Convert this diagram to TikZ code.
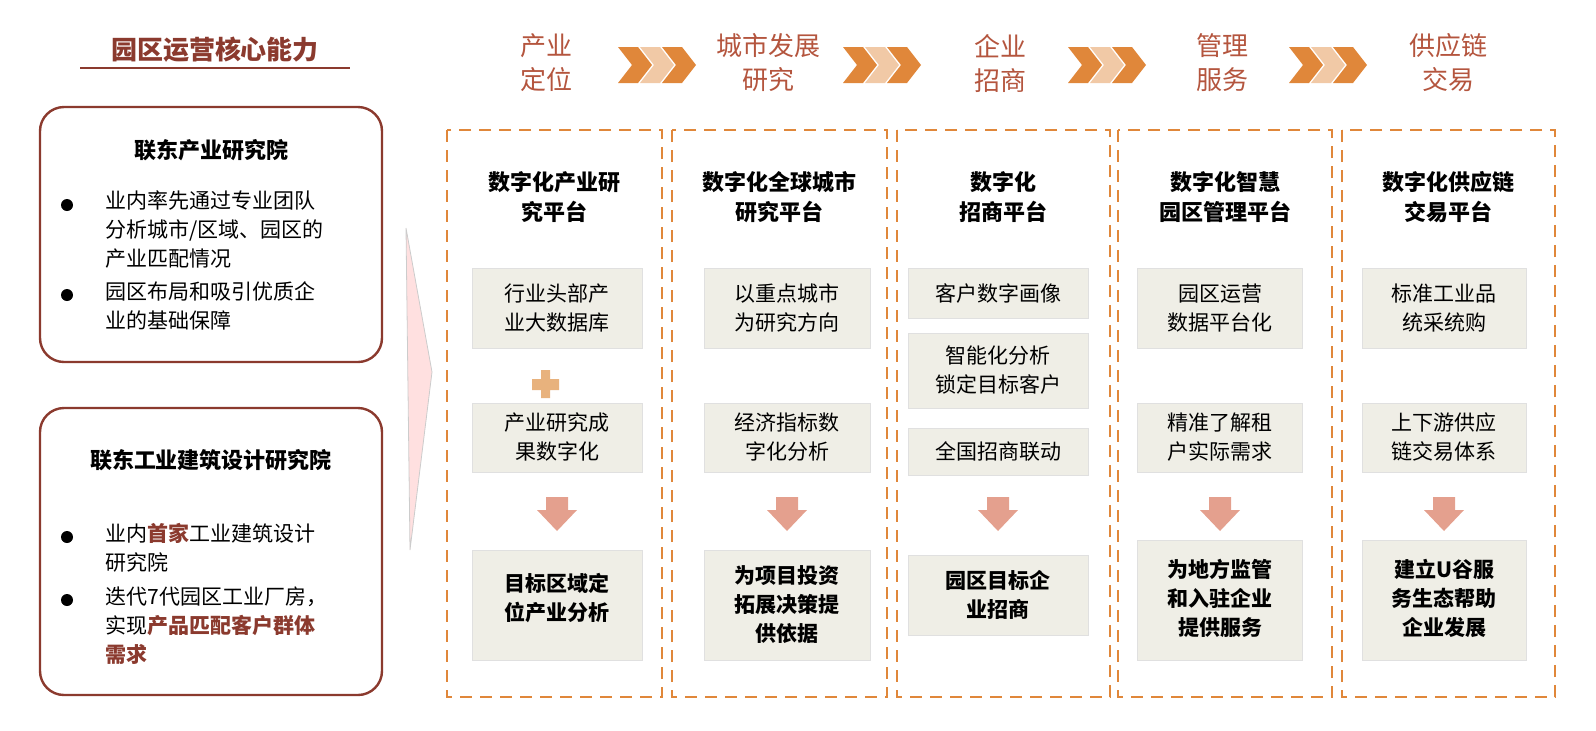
\documentclass[tikz,border=0pt]{standalone}
\usepackage{fontspec}
\setmainfont{Noto Sans CJK SC}
\definecolor{dred}{HTML}{8B3A2E}
\definecolor{hdr}{HTML}{B4553E}
\definecolor{dorange}{HTML}{E0873A}
\definecolor{gbox}{HTML}{EFEEE6}
\definecolor{parrow}{HTML}{E4A08E}
\begin{document}
\begin{tikzpicture}[x=0.5pt,y=-0.5pt,
  every node/.style={inner sep=0pt,align=center},
  hdrtxt/.style={text=hdr,font=\fontsize{13}{17}\selectfont},
  coltitle/.style={font=\fontsize{11}{15}\selectfont\bfseries},
  colbox/.style={draw=dorange,line width=1.2pt,dash pattern=on 6pt off 4pt},
  txt/.style={font=\fontsize{10.5}{14.5}\selectfont},
  btxt/.style={font=\fontsize{10.5}{14.5}\selectfont\bfseries},
  lbox/.style={draw=dred,line width=1.2pt,rounded corners=12pt},
]
\useasboundingbox (0,0) rectangle (1596,730);
% title
\node[text=dred,font=\fontsize{13}{17}\selectfont\bfseries] (title) at (215,50) {园区运营核心能力};
\draw[dred,line width=0.8pt] (80,68) -- (350,68);
% left boxes
\draw[lbox] (40,107) rectangle (382,362);
\node[coltitle] (l1) at (211,150) {联东产业研究院};
\node[txt,anchor=north west,align=left] (l1a) at (105,190) {业内率先通过专业团队\\分析城市/区域、园区的\\产业匹配情况};
\node[txt,anchor=north west,align=left] (l1b) at (105,281) {园区布局和吸引优质企\\业的基础保障};
\fill (67,205) circle (3pt) (67,295) circle (3pt);
\draw[lbox] (40,408) rectangle (382,695);
\node[coltitle] (l2) at (211,460) {联东工业建筑设计研究院};
\node[txt,anchor=north west,align=left] (l2a) at (105,523) {业内\textcolor{dred}{\bfseries 首家}工业建筑设计\\研究院};
\node[txt,anchor=north west,align=left] (l2b) at (105,586) {迭代7代园区工业厂房，\\实现\textcolor{dred}{\bfseries 产品匹配客户群体}\\\textcolor{dred}{\bfseries 需求}};
\fill (67,537) circle (3pt) (67,600) circle (3pt);
% wedge
\fill[red!12,draw=black!20] (406,228) -- (432,372) -- (410,550) -- cycle;
% headers
\foreach \x/\t [count=\i] in {546/{产业\\定位},768/{城市发展\\研究},1000/{企业\\招商},1222/{管理\\服务},1448/{供应链\\交易}}
  \node[hdrtxt] (h\i) at (\x,63) {\t};
\foreach \x in {657,882,1107,1328}{
  \foreach \d/\c in {-22/dorange,0/dorange!45,22/dorange}
    \fill[\c] (\x+\d-17,47) -- (\x+\d+3,47) -- (\x+\d+17,65) -- (\x+\d+3,83) -- (\x+\d-17,83) -- (\x+\d-3,65) -- cycle;
}
% columns
\foreach \a/\b [count=\i] in {447/662,672/887,897/1110,1118/1332,1342/1555}
  \draw[colbox] (\a,130) rectangle (\b,697);
\node[coltitle] (t1) at (554,197) {数字化产业研\\究平台};
\node[coltitle] (t2) at (779,197) {数字化全球城市\\研究平台};
\node[coltitle] (t3) at (1003,197) {数字化\\招商平台};
\node[coltitle] (t4) at (1225,197) {数字化智慧\\园区管理平台};
\node[coltitle] (t5) at (1448,197) {数字化供应链\\交易平台};
% col1
\fill[gbox,draw=black!12] (472,268) rectangle (642,348); \node[txt] (a1) at (557,308) {行业头部产\\业大数据库};
\fill[gbox,draw=black!12] (472,403) rectangle (642,472); \node[txt] (a2) at (557,437) {产业研究成\\果数字化};
\fill[gbox,draw=black!12] (472,550) rectangle (642,660); \node[btxt] (a3) at (557,598) {目标区域定\\位产业分析};
\fill[brown!60!orange!60] (541,370) rectangle (550,398) (532,379) rectangle (559,390);
% col2
\fill[gbox,draw=black!12] (704,268) rectangle (870,348); \node[txt] (b1) at (787,308) {以重点城市\\为研究方向};
\fill[gbox,draw=black!12] (704,403) rectangle (870,472); \node[txt] (b2) at (787,437) {经济指标数\\字化分析};
\fill[gbox,draw=black!12] (704,550) rectangle (870,660); \node[btxt] (b3) at (787,605) {为项目投资\\拓展决策提\\供依据};
% col3
\fill[gbox,draw=black!12] (908,268) rectangle (1088,318); \node[txt] (d1) at (998,293) {客户数字画像};
\fill[gbox,draw=black!12] (908,333) rectangle (1088,408); \node[txt] (d2) at (998,370) {智能化分析\\锁定目标客户};
\fill[gbox,draw=black!12] (908,428) rectangle (1088,475); \node[txt] (d3) at (998,451) {全国招商联动};
\fill[gbox,draw=black!12] (908,555) rectangle (1088,635); \node[btxt] (d4) at (998,595) {园区目标企\\业招商};
% col4
\fill[gbox,draw=black!12] (1137,268) rectangle (1302,348); \node[txt] (e1) at (1220,308) {园区运营\\数据平台化};
\fill[gbox,draw=black!12] (1137,403) rectangle (1302,472); \node[txt] (e2) at (1220,437) {精准了解租\\户实际需求};
\fill[gbox,draw=black!12] (1137,540) rectangle (1302,660); \node[btxt] (e3) at (1220,598) {为地方监管\\和入驻企业\\提供服务};
% col5
\fill[gbox,draw=black!12] (1362,268) rectangle (1526,348); \node[txt] (f1) at (1444,308) {标准工业品\\统采统购};
\fill[gbox,draw=black!12] (1362,403) rectangle (1526,472); \node[txt] (f2) at (1444,437) {上下游供应\\链交易体系};
\fill[gbox,draw=black!12] (1362,540) rectangle (1526,660); \node[btxt] (f3) at (1444,598) {建立U谷服\\务生态帮助\\企业发展};
% arrows
\foreach \x in {557,787,998,1220,1444}
  \fill[parrow] (\x-11,497) -- (\x+11,497) -- (\x+11,510) -- (\x+20,510) -- (\x,531) -- (\x-20,510) -- (\x-11,510) -- cycle;
\end{tikzpicture}
\end{document}
